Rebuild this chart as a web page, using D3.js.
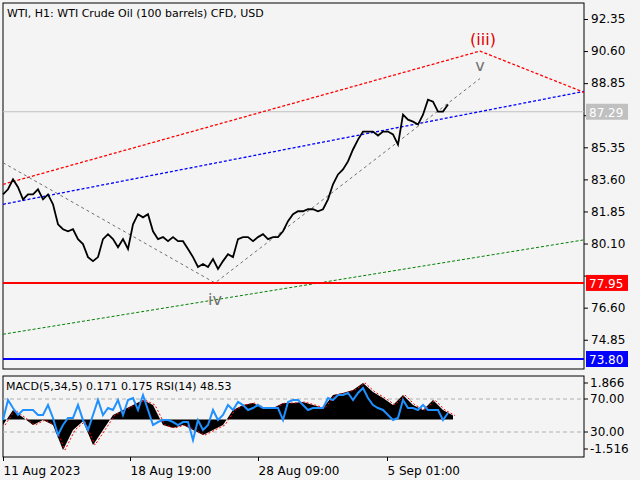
<!DOCTYPE html>
<html><head><meta charset="utf-8">
<script src="https://cdn.jsdelivr.net/npm/d3@7"></script>
<style>body{margin:0;background:#f4f4f4}svg{display:block;font-family:"DejaVu Sans",sans-serif;font-size:11px}</style>
</head><body><svg id="chart" width="640" height="480"></svg>
<script>
// hourly closes, sampled every 5 bars
var price = [82.78,83.06,83.60,83.17,82.51,82.78,82.78,83.06,82.51,82.78,82.24,81.15,80.88,80.77,80.88,80.34,80.07,79.36,79.14,79.36,
  80.34,80.61,80.34,79.90,80.34,79.80,81.15,81.70,81.53,81.70,80.77,80.34,80.45,80.23,80.45,80.23,80.23,79.80,79.36,78.82,
  78.98,78.82,79.25,78.71,79.14,79.52,79.36,80.34,80.45,80.45,80.23,80.45,80.61,80.34,80.45,80.45,80.77,81.32,81.70,81.86,
  81.86,81.97,81.97,81.86,81.97,82.51,83.33,83.87,84.14,84.58,85.23,85.77,86.21,86.21,86.21,85.99,86.21,86.21,86.05,85.50,
  87.13,86.86,86.75,86.59,87.13,87.95,87.84,87.30,87.30,87.68];
var rsi = [44.5,68.8,59.1,50.6,56.7,56.7,56.7,50.6,50.6,62.7,47.0,26.4,38.5,47.0,47.0,62.7,44.5,32.4,50.6,68.8,
  50.6,59.1,56.7,68.8,50.6,68.8,71.2,56.7,74.8,56.7,38.5,42.1,44.5,44.5,42.1,38.5,42.1,42.1,20.3,44.5,
  32.4,38.5,56.7,44.5,50.6,62.7,56.7,66.4,62.7,56.7,59.1,62.7,59.1,59.1,59.1,59.1,44.5,66.4,68.8,68.8,
  62.7,56.7,59.1,59.1,59.1,71.2,68.8,74.8,74.8,77.3,68.8,77.3,83.3,71.2,62.7,59.1,56.7,50.6,44.5,47.0,
  68.8,59.1,59.1,56.7,62.7,56.7,56.7,56.7,44.5,53.0];
// macd every 10 bars
var macd = [-0.29,0.48,0.10,-0.29,-0.03,-0.29,-1.57,-0.54,-0.10,-1.31,-0.54,0.23,0.48,0.74,0.99,0.74,-0.29,-0.44,-0.29,-0.54,
  -0.80,-0.54,-0.29,0.48,0.74,0.84,0.58,0.58,0.84,0.84,0.89,0.74,0.58,1.25,1.35,1.51,1.87,1.40,1.10,0.74,1.25,0.74,0.48,0.99,0.48,0.20];
var priceTicks = [92.35,90.60,88.85,87.10,85.35,83.60,81.85,80.10,78.35,76.60,74.85];
var timeLabels = ["11 Aug 2023","18 Aug 19:00","28 Aug 09:00","5 Sep 01:00"];
var timeIdx = [0,25.4,51,76.8];
// wave lines: [index, price]
var redWave = [[0,83.33],[95.4,90.6],[116.2,88.35]];
var blueLine = [[0,82.24],[116.2,88.4]];
var greenLine = [[0,75.15],[116.2,80.3]];
var greyWave = [[0,84.51],[42.4,77.95],[95.4,89.1]];
var levels = [{v:77.95,c:"#ff0000"},{v:73.80,c:"#0000ff"}];
var lastPrice = 87.29;

var svg = d3.select("#chart"), L = 3, R = 584;
var x = d3.scaleLinear().domain([0,116.2]).range([L,R]);
var y = d3.scaleLinear().domain([73.2,92.35]).range([370,19]);
var ym = d3.scaleLinear().domain([-1.516,1.866]).range([449,383]);
var yr = d3.scaleLinear().domain([30,70]).range([432,399]);

svg.append("rect").attr("x",L).attr("y",3).attr("width",R-L).attr("height",366).attr("fill","#f4f4f4").attr("stroke","#000");
svg.append("rect").attr("x",L).attr("y",376).attr("width",R-L).attr("height",81).attr("fill","#f4f4f4").attr("stroke","#000");

// ticks hidden under the level boxes are left out
var covered = [87.10,78.35];
svg.append("g").attr("transform","translate("+R+",0)")
  .call(d3.axisRight(y).tickValues(priceTicks).tickFormat(function(d){return covered.indexOf(d)<0?d.toFixed(2):"";}).tickSize(4))
  .call(function(g){g.select(".domain").remove();g.selectAll("text").attr("font-size",12).attr("font-family","DejaVu Sans").attr("fill","#000");});

var line = d3.line().x(function(d){return x(d[0]);}).y(function(d){return y(d[1]);});
svg.append("line").attr("x1",L).attr("x2",R).attr("y1",y(lastPrice)).attr("y2",y(lastPrice)).attr("stroke","#c0c0c0");
svg.append("path").attr("d",line(greenLine)).attr("fill","none").attr("stroke","#008000").attr("stroke-dasharray","3,2");
svg.append("path").attr("d",line(blueLine)).attr("fill","none").attr("stroke","#0000ff").attr("stroke-width",1.3).attr("stroke-dasharray","3,2");
svg.append("path").attr("d",line(redWave)).attr("fill","none").attr("stroke","#ff0000").attr("stroke-width",1.3).attr("stroke-dasharray","3,2");
svg.append("path").attr("d",line(greyWave)).attr("fill","none").attr("stroke","#707070").attr("stroke-dasharray","3,3");

levels.forEach(function(l){
  svg.append("line").attr("x1",L).attr("x2",R).attr("y1",y(l.v)).attr("y2",y(l.v)).attr("stroke",l.c).attr("stroke-width",2);
  svg.append("rect").attr("x",R+2).attr("y",y(l.v)-8).attr("width",42).attr("height",16).attr("fill",l.c);
  svg.append("text").attr("x",R+5).attr("y",y(l.v)+5).attr("font-size",12).attr("fill","#fff").text(l.v.toFixed(2));
});
svg.append("rect").attr("x",R+2).attr("y",y(lastPrice)-8).attr("width",42).attr("height",16).attr("fill","#c0c0c0");
svg.append("text").attr("x",R+5).attr("y",y(lastPrice)+5).attr("font-size",12).attr("fill","#fff").text(lastPrice.toFixed(2));

svg.append("path").datum(price)
  .attr("d",d3.line().x(function(d,i){return x(i);}).y(function(d){return y(d);}))
  .attr("fill","none").attr("stroke","#000").attr("stroke-width",1.8);

svg.append("text").attr("x",x(redWave[1][0])+3).attr("y",y(redWave[1][1])-6).attr("text-anchor","middle").attr("font-size",16).attr("fill","#e00000").text("(iii)");
svg.append("text").attr("x",x(greyWave[2][0])).attr("y",y(greyWave[2][1])-8).attr("text-anchor","middle").attr("font-size",16).attr("fill","#707070").text("v");
svg.append("text").attr("x",x(greyWave[1][0])).attr("y",y(greyWave[1][1])+22).attr("text-anchor","middle").attr("font-size",16).attr("fill","#707070").text("iv");
svg.append("text").attr("x",7).attr("y",17).attr("fill","#000").text("WTI, H1:  WTI Crude Oil (100 barrels) CFD, USD");

// indicator pane
[70,30].forEach(function(v){
  svg.append("line").attr("x1",L).attr("x2",R).attr("y1",yr(v)).attr("y2",yr(v)).attr("stroke","#b0b0b0").attr("stroke-dasharray","4,3");
});
svg.append("path").datum(macd)
  .attr("d",d3.area().x(function(d,i){return x(i*2);}).y0(ym(0)).y1(function(d){return ym(d);}))
  .attr("fill","#000");
svg.append("path").datum(macd)
  .attr("d",d3.line().x(function(d,i){return x(i*2)+2;}).y(function(d){return ym(d);}))
  .attr("fill","none").attr("stroke","#ff0000").attr("stroke-dasharray","2,2");
svg.append("path").datum(rsi)
  .attr("d",d3.line().x(function(d,i){return x(i);}).y(function(d){return yr(d);}))
  .attr("fill","none").attr("stroke","#1e90ff").attr("stroke-width",2);
svg.append("text").attr("x",6).attr("y",390).attr("fill","#000").text("MACD(5,34,5) 0.171 0.175 RSI(14) 48.53");
[[1.866,ym(1.866)],[70,yr(70)],[30,yr(30)],[-1.516,ym(-1.516)]].forEach(function(t){
  svg.append("line").attr("x1",R).attr("x2",R+4).attr("y1",t[1]).attr("y2",t[1]).attr("stroke","#000");
  svg.append("text").attr("x",R+6).attr("y",t[1]+4).attr("font-size",12).text(t[0]===70||t[0]===30?t[0].toFixed(2):t[0].toFixed(3));
});

svg.append("g").attr("transform","translate(0,457)")
  .call(d3.axisBottom(x).tickValues(timeIdx).tickFormat(function(d,i){return timeLabels[i];}).tickSize(4))
  .call(function(g){g.select(".domain").remove();g.selectAll("text").attr("text-anchor","start").attr("font-size",12).attr("font-family","DejaVu Sans").attr("fill","#000").attr("dy","0.9em");});
</script></body></html>
